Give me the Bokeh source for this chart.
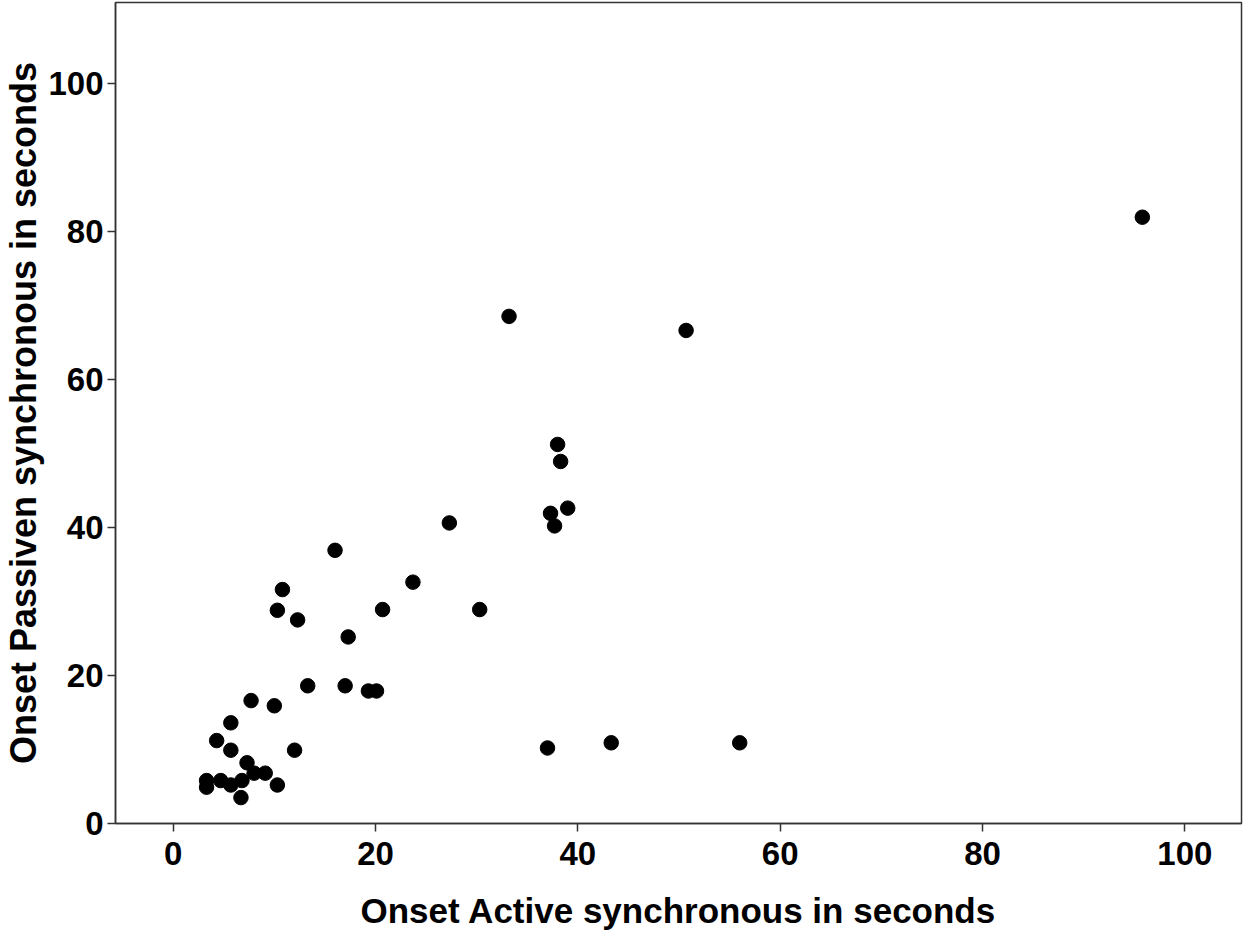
from bokeh.plotting import figure
from bokeh.models import FixedTicker, Range1d
from bokeh.embed import file_html
from bokeh.resources import INLINE

active = [3.3, 3.3, 4.7, 5.7, 6.8, 6.7, 10.3, 8.0, 9.1, 7.3,
          5.7, 12.0, 4.3, 5.7, 7.7, 10.0, 13.3, 17.0, 19.3, 20.1,
          17.3, 12.3, 10.3, 10.8, 20.7, 23.7, 30.3, 16.0, 27.3, 33.2,
          38.0, 38.3, 39.0, 37.3, 37.7, 37.0, 43.3, 56.0, 50.7, 95.8]
passive = [5.8, 4.9, 5.8, 5.2, 5.8, 3.5, 5.2, 6.8, 6.8, 8.2,
           9.9, 9.9, 11.2, 13.6, 16.6, 15.9, 18.6, 18.6, 17.9, 17.9,
           25.2, 27.5, 28.8, 31.6, 28.9, 32.6, 28.9, 36.9, 40.6, 68.5,
           51.2, 48.9, 42.6, 41.9, 40.2, 10.2, 10.9, 10.9, 66.6, 81.9]
ticks = [0, 20, 40, 60, 80, 100]

FONT = "Liberation Sans"

p = figure(width=1243, height=932, output_backend="svg", toolbar_location=None,
           x_range=Range1d(-5.7, 105.6), y_range=Range1d(0, 110.9),
           min_border_left=109, min_border_right=2, min_border_top=2,
           min_border_bottom=107)
p.background_fill_color = "white"
p.border_fill_color = "white"
p.outline_line_color = "#333333"
p.outline_line_width = 1.5
p.xgrid.visible = False
p.ygrid.visible = False

p.scatter(active, passive, size=14.5, color="black", marker="circle")

for ax in (p.xaxis[0], p.yaxis[0]):
    ax.ticker = FixedTicker(ticks=ticks)
    ax.minor_tick_line_color = None
    ax.major_tick_in = 0
    ax.major_tick_out = 8
    ax.major_tick_line_color = "#333333"
    ax.major_tick_line_width = 1.5
    ax.axis_line_color = "#333333"
    ax.axis_line_width = 1.5
    ax.major_label_text_font = FONT
    ax.major_label_text_font_style = "bold"
    ax.major_label_text_font_size = "33px"
    ax.major_label_text_color = "black"
    ax.axis_label_text_font = FONT
    ax.axis_label_text_font_style = "bold"
    ax.axis_label_text_color = "black"

p.xaxis.axis_label = "Onset Active synchronous in seconds"
p.xaxis.axis_label_text_font_size = "35px"
p.xaxis.major_label_standoff = 10
p.xaxis.axis_label_standoff = 23

p.yaxis.axis_label = "Onset Passiven synchronous in seconds"
p.yaxis.axis_label_text_font_size = "36px"
p.yaxis.major_label_standoff = 4
p.yaxis.axis_label_standoff = 1

open("out.html", "w").write(file_html(p, INLINE))
